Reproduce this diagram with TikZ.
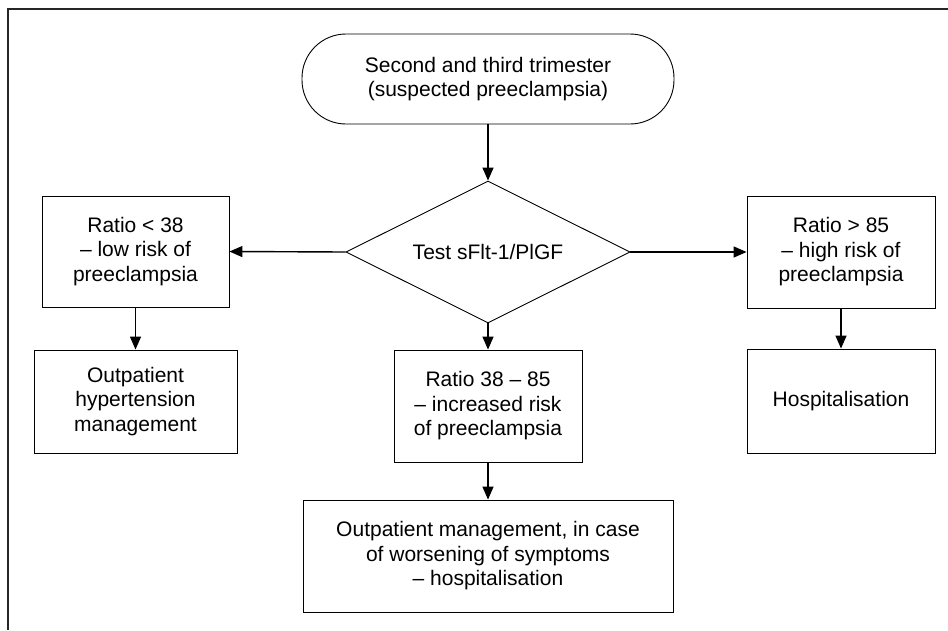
\documentclass[tikz,border=0pt]{standalone}
\usepackage{fontspec}
\setmainfont{Liberation Sans}
\usetikzlibrary{shapes.geometric,arrows.meta}
\begin{document}
\begin{tikzpicture}[x=1pt,y=-1pt,
  every node/.style={font=\fontsize{21}{24.5}\selectfont, align=center, inner sep=0pt},
  box/.style={draw, line width=0.9pt, rectangle},
  startbox/.style={draw, line width=0.9pt, rectangle, rounded corners=44pt},
  choice/.style={draw, line width=0.9pt, diamond, aspect=2},
  flow/.style={line width=1.4pt, -{Triangle[length=13pt,width=11pt]}},
  frame/.style={line width=1.6pt, draw=black!85}]
  \useasboundingbox (0,0) rectangle (948,630);
  % partial frame: top and left edges
  \coordinate (fa) at (8,630);
  \coordinate (fb) at (8,9);
  \coordinate (fc) at (948,9);
  \draw[frame] (fa) -- (fb) -- (fc);

  \node[startbox, minimum width=372pt, minimum height=90pt] (start) at (488,79)
    {Second and third trimester\\(suspected preeclampsia)};
  \node[choice, minimum width=284pt, minimum height=142pt] (test) at (488,252)
    {Test sFlt-1/PlGF};
  \node[box, minimum width=187pt, minimum height=111pt] (low) at (135.5,251.5)
    {Ratio < 38\\– low risk of\\preeclampsia};
  \node[box, minimum width=203pt, minimum height=103pt] (outhyp) at (135.5,401.5)
    {Outpatient\\hypertension\\management};
  \node[box, minimum width=188pt, minimum height=112pt] (mid) at (488,406)
    {Ratio 38 – 85\\– increased risk\\of preeclampsia};
  \node[box, minimum width=188pt, minimum height=112pt] (high) at (841,252)
    {Ratio > 85\\– high risk of\\preeclampsia};
  \node[box, minimum width=188pt, minimum height=104pt] (hosp) at (841,401)
    {Hospitalisation};
  \node[box, minimum width=370pt, minimum height=112pt] (outman) at (488,556)
    {Outpatient management, in case\\of worsening of symptoms\\– hospitalisation};

  \draw[flow] (start) -- (test);
  \draw[flow] (test.west) -- (low.east);
  \draw[flow] (test.east) -- (high.west);
  \draw[flow] (test.south) -- (mid.north);
  \draw[flow] (low) -- (outhyp);
  \draw[flow] (high) -- (hosp);
  \draw[flow] (mid) -- (outman);
\end{tikzpicture}
\end{document}
